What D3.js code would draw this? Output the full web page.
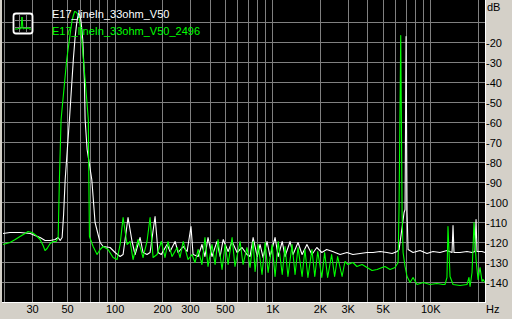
<!DOCTYPE html>
<html>
<head>
<meta charset="utf-8">
<script src="https://cdn.jsdelivr.net/npm/d3@7"></script>
<style>
	html,body{margin:0;padding:0;background:#d4d0c8;}
	svg{display:block;}
	text{font-family:"Liberation Sans",Arial,sans-serif;font-size:11px;}
</style>
</head>
<body>
<div id="chart"></div>
<script>

// series names, as in the legend
var seriesNames = ["E17_lineIn_33ohm_V50", "E17_lineIn_33ohm_V50_2496"];

// white trace: frequency (Hz) and level (dB)
var whiteFreq = [19.5,21.6,25,29,31.1,33.5,36,38.8,41.7,43.6,44.9,46.2,47.2,48.3,51.4,54.4,55.8,57,57.9,58.7,59.8,60.7,61.5,62.4,63.9,64.6,66.5,71.2,74.7,80.4,84,93,100,107.6,112.4,120.8,128.1,133.9,144,150.4,159.3,166.6,179.2,187.2,196.2,213.3,223,240,251,270,286,302.6,312,336,355,371,388,411,442,463,484,520,551,593,637,685,716,749,795,829,866,918,959,1032,1080,1145,1193,1284,1341,1442,1530,1642,1766,1896,2040,2189,2389,2663,2944,3210,3565,3944,4310,4773,5277,5687,6117,6297,6774,6870,6972,7074,7178,7720,8550,9460,10330,11440,12660,13630,13830,14030,15320,16950,18250,19070,19350,19630,21120,22050];
var whiteDb = [-115.5,-115,-115,-115.5,-116.5,-117.5,-119,-119,-118.5,-117.5,-119,-117.5,-106,-88.5,-58.5,-28.5,-17.5,-11,-7.5,-5.5,-6.25,-8.5,-13,-18.5,-38.5,-58.5,-73.5,-88.5,-110,-120,-122,-122.5,-125,-127,-126,-107.5,-119.5,-126,-117.5,-125,-126,-125,-107,-125,-126,-121,-124.5,-119.5,-125,-122,-124.5,-112,-126,-127,-121,-127,-117.5,-127,-119.5,-127,-118.5,-124.5,-119.5,-125,-122.5,-126,-127,-117.5,-127,-121,-127.5,-119.5,-127,-117.5,-127,-119.5,-127,-119.5,-126,-120,-126,-121,-126,-122.5,-125,-123.5,-124.5,-126,-125,-126,-125.5,-125,-125,-124.5,-125,-125.5,-124.5,-123.5,-105,-103.5,-17,-105,-123.5,-125,-124,-125.5,-124.5,-125,-124,-125,-111.5,-125,-125,-124.5,-125,-124.5,-108.5,-124.5,-124.5,-125];

// green trace: frequency (Hz) and level (dB)
var greenFreq = [19.5,21.6,23.3,25,26.9,28.1,29.8,31.6,33.5,35,36,37.1,38.8,40.5,42.3,43.6,44.4,45.5,49.4,52.4,53.4,54.4,55.4,56.6,57.9,59.4,60.4,61.5,64.6,67.7,68.2,68.8,72.6,76.9,80.4,84,90.3,97.1,103,107.6,112.4,119.1,124.5,130,139.9,150.4,159.3,166.6,174.1,184.5,196.2,207.2,216.4,229.6,247.4,258,270,290,307,321,336,355,371,388,411,430,449,476,498,520,551,575,619,647,685,716,749,771,806,853,892,932,988,1032,1080,1145,1193,1245,1322,1381,1442,1530,1595,1666,1766,1841,1923,2040,2126,2221,2354,2459,2570,2742,2859,2987,3210,3402,3671,3944,4248,4571,4915,5125,5523,5940,6206,6297,6450,6580,6676,6870,7074,7390,7720,8180,8960,9890,10920,11950,12300,12660,12850,13240,13830,15320,16950,17450,17730,18250,18790,19350,19920,20510,21120,21430,22050];
var greenDb = [-121,-120,-118.5,-117,-115.5,-114.5,-115,-116.5,-118.5,-121.5,-124,-123,-120.5,-119.5,-119.5,-117.5,-88.5,-58.5,-28.5,-13.5,-9,-6.5,-4.5,-4.75,-5.75,-8.5,-12.5,-18.5,-38.5,-58.5,-88.5,-117,-122,-126,-123.5,-122,-123.5,-127.5,-128.5,-121,-107.5,-121,-119.5,-128.5,-118.5,-127.5,-119.5,-107.5,-127.5,-126,-119.5,-127.5,-119.5,-127,-122.5,-127.5,-119.5,-128.5,-126,-130,-123.5,-131,-117.5,-132,-121,-131,-118.5,-133.5,-121,-131,-117.5,-132,-119.5,-131,-122.5,-132.5,-119.5,-134.5,-121,-136,-120,-135,-121,-137,-119.5,-136,-122,-137,-121,-136,-122.5,-137,-123.5,-137.5,-123.5,-137,-124.5,-137.5,-125,-137.5,-126,-137,-127,-137,-129.5,-131,-130,-132,-131,-132.5,-134,-133.5,-132.5,-132,-133.5,-132.5,-130,-102,-16.5,-105,-125,-132,-137,-140,-137.5,-141,-140,-141,-140.5,-141,-141,-137.5,-112,-137,-141,-141.5,-141,-137.5,-142,-135,-110,-128.5,-138.5,-132.5,-139.5,-138.5,-140];

// axes
var xGridValues = [20,30,40,50,60,70,80,90,100,200,300,400,500,600,700,800,900,1000,2000,3000,4000,5000,6000,7000,8000,9000,10000,20000];
var xTickValues = [30,50,100,200,300,500,1000,2000,3000,5000,10000];
var xTickLabels = ["30","50","100","200","300","500","1K","2K","3K","5K","10K"];
var yGridValues = [-10,-20,-30,-40,-50,-60,-70,-80,-90,-100,-110,-120,-130,-140];
var yTickValues = [-20,-30,-40,-50,-60,-70,-80,-90,-100,-110,-120,-130,-140];

var width = 512, height = 319;
var plot = {left:2, top:0, right:485, bottom:302};

var svg = d3.select("#chart").append("svg")
	.attr("width", width)
	.attr("height", height);

svg.append("rect")
	.attr("width", width).attr("height", height)
	.attr("fill", "#d4d0c8");

var x = d3.scaleLog().domain([19.5, 22050]).range([3, 485]);
var y = d3.scaleLinear().domain([0, -150]).range([2.5, 302.5]);

function px(v){ return Math.floor(v) + 0.5; }

svg.append("rect")
	.attr("x", plot.left).attr("y", plot.top)
	.attr("width", plot.right - plot.left).attr("height", plot.bottom - plot.top)
	.attr("fill", "#000");

svg.append("clipPath").attr("id", "clip")
	.append("rect")
	.attr("x", plot.left).attr("y", plot.top)
	.attr("width", plot.right - plot.left).attr("height", plot.bottom - plot.top);

var grid = svg.append("g")
	.attr("stroke", "#808080")
	.attr("stroke-width", 1)
	.attr("shape-rendering", "crispEdges");

grid.selectAll("line.v").data(xGridValues)
	.enter().append("line")
	.attr("class", "v")
	.attr("x1", function(d){ return px(x(d)); })
	.attr("x2", function(d){ return px(x(d)); })
	.attr("y1", plot.top).attr("y2", plot.bottom);

grid.selectAll("line.h").data(yGridValues)
	.enter().append("line")
	.attr("class", "h")
	.attr("y1", function(d){ return px(y(d)); })
	.attr("y2", function(d){ return px(y(d)); })
	.attr("x1", plot.left).attr("x2", plot.right);

// sunken border: white on right and bottom
svg.append("path")
	.attr("d", "M" + (plot.right + 0.5) + "," + plot.top + "V" + (plot.bottom + 0.5) + "H" + plot.left)
	.attr("fill", "none")
	.attr("stroke", "#fff")
	.attr("shape-rendering", "crispEdges");

var line = d3.line()
	.x(function(d){ return x(d[0]); })
	.y(function(d){ return y(d[1]); });

var traces = svg.append("g").attr("clip-path", "url(#clip)");

function addTrace(freq, db, color){
	var pts = freq.map(function(f, i){ return [f, db[i]]; });
	traces.append("path")
		.datum(pts)
		.attr("d", line)
		.attr("fill", "none")
		.attr("stroke", color)
		.attr("stroke-width", 1.1)
		.attr("stroke-linejoin", "round");
}

addTrace(whiteFreq, whiteDb, "#ffffff");
addTrace(greenFreq, greenDb, "#00ff00");

// bottom axis labels
svg.append("g").selectAll("text").data(xTickValues)
	.enter().append("text")
	.attr("x", function(d){ return x(d); })
	.attr("y", 313)
	.attr("text-anchor", "middle")
	.attr("fill", "#000")
	.text(function(d, i){ return xTickLabels[i]; });

svg.append("text")
	.attr("x", 486).attr("y", 313)
	.attr("fill", "#000")
	.text("Hz");

// right axis labels
svg.append("g").selectAll("text").data(yTickValues)
	.enter().append("text")
	.attr("x", 486)
	.attr("y", function(d){ return y(d) + 4; })
	.attr("fill", "#000")
	.text(function(d){ return d; });

svg.append("text")
	.attr("x", 487).attr("y", 11)
	.attr("fill", "#000")
	.text("dB");

// legend
var legend = svg.append("g");
var icon = legend.append("g").attr("transform", "translate(13,13)");
icon.append("rect")
	.attr("x", 0.5).attr("y", 0.5).attr("width", 19).attr("height", 20).attr("rx", 2.5)
	.attr("fill", "#000").attr("stroke", "#fff").attr("stroke-width", 1.8);
icon.selectAll("line.g").data([6, 13])
	.enter().append("line")
	.attr("x1", function(d){ return d + 0.5; }).attr("x2", function(d){ return d + 0.5; })
	.attr("y1", 2).attr("y2", 19)
	.attr("stroke", "#808080");
icon.selectAll("line.h").data([7, 14])
	.enter().append("line")
	.attr("y1", function(d){ return d + 0.5; }).attr("y2", function(d){ return d + 0.5; })
	.attr("x1", 2).attr("x2", 18)
	.attr("stroke", "#808080");
icon.append("path")
	.attr("d", "M2,16L5,16L6,15L8,16L9,4L10,16L12,15L14,16L15,14L16,16L18,16")
	.attr("fill", "none").attr("stroke", "#00ff00").attr("stroke-width", 1);

legend.selectAll("text").data(seriesNames)
	.enter().append("text")
	.attr("x", 52)
	.attr("y", function(d, i){ return 18 + i * 17; })
	.attr("fill", function(d, i){ return i == 0 ? "#ffffff" : "#00ff00"; })
	.text(function(d){ return d; });

</script>
</body>
</html>
